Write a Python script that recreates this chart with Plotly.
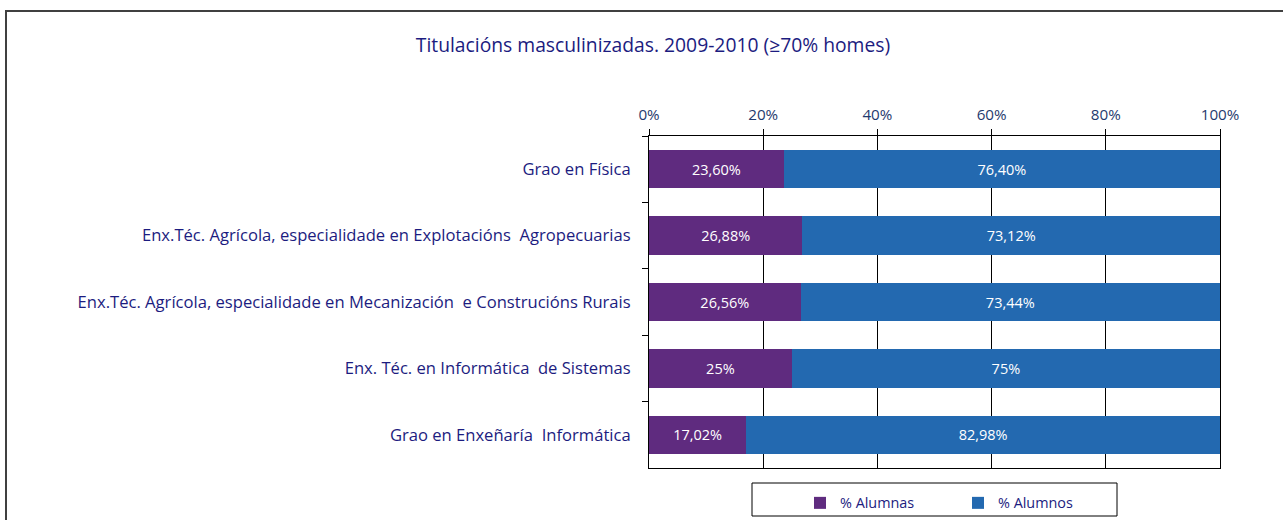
import plotly.graph_objects as go

categories = [
    "Grao en Física",
    "Enx.Téc. Agrícola, especialidade en Explotacións  Agropecuarias",
    "Enx.Téc. Agrícola, especialidade en Mecanización  e Construcións Rurais",
    "Enx. Téc. en Informática  de Sistemas",
    "Grao en Enxeñaría  Informática",
]
alumnas = [23.60, 26.88, 26.56, 25.0, 17.02]
alumnos = [76.40, 73.12, 73.44, 75.0, 82.98]
x_ticks = [0, 20, 40, 60, 80, 100]
title_text = "Titulacións masculinizadas. 2009-2010 (≥70% homes)"


def fmt(v):
    if abs(v - round(v)) < 1e-9:
        return f"{int(round(v))}%"
    return f"{v:.2f}".replace(".", ",") + "%"


FONT = "Open Sans"
NAVY = "#1c1c80"
TICKC = "#1f3a6e"

W, H = 1283, 520
L, R, T, B = 649, 1220, 136, 468


def px(x):
    return (x - L) / (R - L)


def py(y):
    return (B - y) / (B - T)


fig = go.Figure()
fig.add_trace(go.Bar(
    y=categories, x=alumnas, orientation="h", name="% Alumnas",
    marker=dict(color="#5f2b7f", line=dict(width=0)),
    text=[fmt(v) for v in alumnas], textposition="inside",
    insidetextanchor="middle",
    textfont=dict(color="white", size=14.5, family=FONT),
))
fig.add_trace(go.Bar(
    y=categories, x=alumnos, orientation="h", name="% Alumnos",
    marker=dict(color="#2369b0", line=dict(width=0)),
    text=[fmt(v) for v in alumnos], textposition="inside",
    insidetextanchor="middle",
    textfont=dict(color="white", size=14.5, family=FONT),
))

fig.update_layout(
    barmode="stack",
    bargap=0.42,
    width=W, height=H,
    margin=dict(l=L, r=W - R, t=T, b=H - B, autoexpand=False),
    plot_bgcolor="white", paper_bgcolor="white",
    font=dict(family=FONT, size=14, color=NAVY),
    title=dict(text=title_text, x=653 / W, xanchor="center",
               y=1 - 45 / H, yanchor="middle",
               font=dict(size=19.3, color=NAVY, family=FONT)),
    showlegend=True,
    legend=dict(
        orientation="h", x=px(800), xanchor="left", y=py(487), yanchor="top",
        borderwidth=0, bgcolor="rgba(0,0,0,0)",
        font=dict(size=14.4, color=NAVY, family=FONT),
        itemwidth=30, entrywidth=113, traceorder="normal",
    ),
    xaxis=dict(
        side="top", range=[0, 100], tickvals=x_ticks,
        ticktext=[f"{v}%" for v in x_ticks],
        showgrid=True, gridcolor="black", gridwidth=1,
        showline=True, linecolor="black", linewidth=1, mirror=True,
        ticks="outside", ticklen=6, tickcolor="black",
        tickfont=dict(size=15.2, color=TICKC, family=FONT),
        ticklabelstandoff=3,
        zeroline=False, fixedrange=True,
    ),
    yaxis=dict(
        autorange="reversed",
        showline=True, linecolor="black", linewidth=1, mirror=True,
        ticks="outside", ticklen=6, tickcolor="black", tickson="boundaries",
        tickfont=dict(size=16.6, color=NAVY, family=FONT),
        ticklabelstandoff=14, fixedrange=True,
    ),
)

# outer chart frame (top and left edges; right/bottom lie outside the view)
fig.add_shape(type="line", xref="paper", yref="paper",
              x0=px(5), x1=px(1283), y0=py(11), y1=py(11),
              line=dict(color="#404040", width=2), layer="below")
fig.add_shape(type="line", xref="paper", yref="paper",
              x0=px(6), x1=px(6), y0=py(10), y1=py(520),
              line=dict(color="#404040", width=2), layer="below")
# legend frame
fig.add_shape(type="rect", xref="paper", yref="paper",
              x0=px(752), x1=px(1117), y0=py(516), y1=py(483),
              line=dict(color="black", width=1), fillcolor="white",
              layer="below")

fig.write_html(
    "out.html", config={"displayModeBar": False},
    post_script="document.body.style.margin='0px';"
                "document.body.style.overflow='hidden';"
                "document.documentElement.style.overflow='hidden';")
